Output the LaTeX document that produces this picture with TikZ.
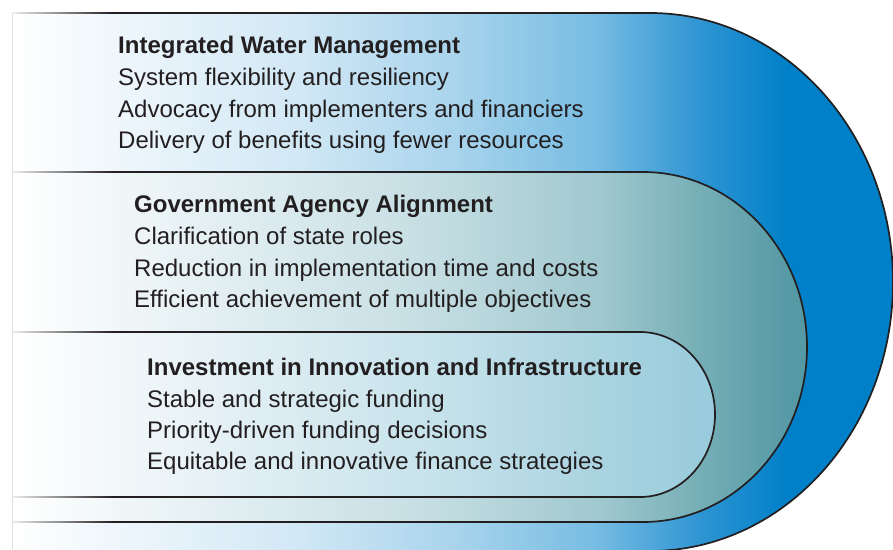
\documentclass[tikz,border=0pt]{standalone}
\usepackage{fontspec}
\setmainfont{Liberation Sans}
\usepackage{xcolor}

\definecolor{txtdark}{HTML}{231F20}
\definecolor{waterblue}{HTML}{0080C8}
\definecolor{skyA}{HTML}{D2E8F5}
\definecolor{skyB}{HTML}{A9D4EC}
\definecolor{skyC}{HTML}{78BDE3}
\definecolor{skyD}{HTML}{2F95D3}
\definecolor{tealA}{HTML}{E5F0F3}
\definecolor{tealB}{HTML}{C7DFE4}
\definecolor{tealC}{HTML}{A0C8CF}
\definecolor{tealD}{HTML}{77AFB7}
\definecolor{tealE}{HTML}{5599A4}
\definecolor{paleA}{HTML}{E8F2F6}
\definecolor{paleB}{HTML}{C4E1EA}
\definecolor{paleC}{HTML}{A9D3E0}
\definecolor{paleD}{HTML}{98CBDC}

% fills of the three layers (bbox of the path = 25bp..75bp)
\pgfdeclarehorizontalshading{outershade}{100bp}{color(0bp)=(white); color(25bp)=(white);
  color(41bp)=(skyA); color(50bp)=(skyB); color(58bp)=(skyC); color(64bp)=(skyD);
  color(69bp)=(waterblue); color(100bp)=(waterblue)}
\pgfdeclarehorizontalshading{middleshade}{100bp}{color(0bp)=(white); color(25bp)=(white);
  color(37bp)=(tealA); color(50.5bp)=(tealB); color(62bp)=(tealC); color(68bp)=(tealD);
  color(74bp)=(tealE); color(100bp)=(tealE)}
\pgfdeclarehorizontalshading{innershade}{100bp}{color(0bp)=(white); color(25bp)=(white);
  color(38bp)=(paleA); color(56bp)=(paleB); color(67bp)=(paleC);
  color(75bp)=(paleD); color(100bp)=(paleD)}

\tikzset{
  rim/.style={draw=txtdark, line width=1.7pt},
  rimfade/.style={left color=black!8, right color=txtdark},
  headline/.style={anchor=base west, inner sep=0pt, text=txtdark,
    font=\fontsize{24}{30}\selectfont\bfseries},
  itemline/.style={anchor=base west, inner sep=0pt, text=txtdark,
    font=\fontsize{24}{30}\selectfont}
}

\begin{document}
\begin{tikzpicture}[x=1pt, y=1pt]
    \useasboundingbox (0,0) rectangle (893,549);
    \clip (0,0) rectangle (893,549);

    % outer layer
    \shade[shading=outershade] (13,536) -- (650,536)
        arc[start angle=90, end angle=-90, x radius=243, y radius=269] -- (13,-2) -- cycle;
    \draw[rim] (114,536) -- (650,536)
        arc[start angle=90, end angle=-90, x radius=243, y radius=269];
    \shade[rimfade] (13,535.15) rectangle (114,536.85);

    % middle layer
    \shade[shading=middleshade] (13,377) -- (643,377)
        arc[start angle=90, end angle=-90, x radius=164, y radius=175] -- (13,27) -- cycle;
    \draw[rim] (114,377) -- (643,377)
        arc[start angle=90, end angle=-90, x radius=164, y radius=175] -- (114,27);
    \shade[rimfade] (13,376.15) rectangle (114,377.85);
    \shade[rimfade] (13,26.15) rectangle (114,27.85);

    % inner layer
    \shade[shading=innershade] (13,217) -- (640,217)
        arc[start angle=90, end angle=-90, x radius=75, y radius=82.5] -- (13,52) -- cycle;
    \draw[rim] (114,217) -- (640,217)
        arc[start angle=90, end angle=-90, x radius=75, y radius=82.5] -- (114,52);
    \shade[rimfade] (13,216.15) rectangle (114,217.85);
    \shade[rimfade] (13,51.15) rectangle (114,52.85);

    \draw[black!12, line width=0.8pt] (12.6,536) -- (12.6,0);

    % texts
    \node[headline] (iwm) at (118,495) {Integrated Water Management};
    \node[itemline] (iwm1) at (118,463.3) {System flexibility and resiliency};
    \node[itemline] (iwm2) at (118,431.6) {Advocacy from implementers and financiers};
    \node[itemline] (iwm3) at (118,400.2) {Delivery of benefits using fewer resources};

    \node[headline] (gaa) at (134,336) {Government Agency Alignment};
    \node[itemline] (gaa1) at (134,304.3) {Clarification of state roles};
    \node[itemline] (gaa2) at (134,272.6) {Reduction in implementation time and costs};
    \node[itemline] (gaa3) at (134,241.2) {Efficient achievement of multiple objectives};

    \node[headline] (iii) at (147,173.3) {Investment in Innovation and Infrastructure};
    \node[itemline] (iii1) at (147,142) {Stable and strategic funding};
    \node[itemline] (iii2) at (147,110.6) {Priority-driven funding decisions};
    \node[itemline] (iii3) at (147,79.3) {Equitable and innovative finance strategies};
\end{tikzpicture}
\end{document}
